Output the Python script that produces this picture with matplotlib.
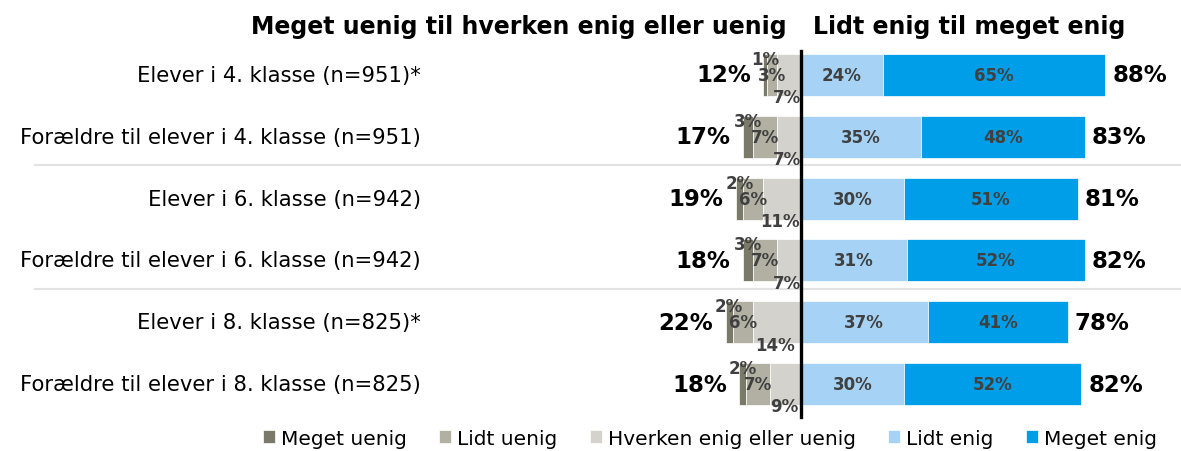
import numpy as np
import matplotlib.pyplot as plt

groups = ['Elever i 4. klasse (n=951)*',
          'Forældre til elever i 4. klasse (n=951)',
          'Elever i 6. klasse (n=942)',
          'Forældre til elever i 6. klasse (n=942)',
          'Elever i 8. klasse (n=825)*',
          'Forældre til elever i 8. klasse (n=825)']

meget_uenig = [1, 3, 2, 3, 2, 2]
lidt_uenig = [3, 7, 6, 7, 6, 7]
hverken = [7, 7, 11, 7, 14, 9]
lidt_enig = [24, 35, 30, 31, 37, 30]
meget_enig = [65, 48, 51, 52, 41, 52]
total_uenig = [12, 17, 19, 18, 22, 18]
total_enig = [88, 83, 81, 82, 78, 82]

legend_labels = ['Meget uenig', 'Lidt uenig', 'Hverken enig eller uenig', 'Lidt enig', 'Meget enig']
colors = ['#7a7a68', '#b1b0a3', '#d3d2cc', '#a6d3f5', '#009ee8']

W, H = 1181, 452
fig = plt.figure(figsize=(W / 100, H / 100), dpi=100)
# axes spans full width; 0 sits at x=801px, 3.42 px per percent
ax = fig.add_axes([0, (H - 416) / H, 1, 371 / H])
pxp = 3.42
ax.set_xlim(-801 / pxp, (W - 801) / pxp)
ax.set_ylim(5.5, -0.5)
ax.axis('off')

y = np.arange(len(groups))
h = 0.68
mu = np.array(meget_uenig)
lu = np.array(lidt_uenig)
hv = np.array(hverken)
le = np.array(lidt_enig)
me = np.array(meget_enig)

left_neg = -(mu + lu + hv)
ax.barh(y, mu, left=left_neg, height=h, color=colors[0], edgecolor='white', linewidth=0.5, label=legend_labels[0])
ax.barh(y, lu, left=left_neg + mu, height=h, color=colors[1], edgecolor='white', linewidth=0.5, label=legend_labels[1])
ax.barh(y, hv, left=-hv, height=h, color=colors[2], edgecolor='white', linewidth=0.5, label=legend_labels[2])
ax.barh(y, le, left=0, height=h, color=colors[3], edgecolor='white', linewidth=0.5, label=legend_labels[3])
ax.barh(y, me, left=le, height=h, color=colors[4], edgecolor='white', linewidth=0.5, label=legend_labels[4])

seg_kw = dict(fontsize=12, fontweight='bold', color='#404040', ha='center', va='center')
for i in range(len(groups)):
    ax.text(left_neg[i] + mu[i] / 2, i - 0.26, f'{mu[i]}%', **seg_kw)
    ax.text(left_neg[i] + mu[i] + lu[i] / 2, i, f'{lu[i]}%', **seg_kw)
    ax.text(-hv[i] / 2 - 0.5, i + 0.36, f'{hv[i]}%', **seg_kw)
    ax.text(le[i] / 2, i, f'{le[i]}%', **seg_kw)
    ax.text(le[i] + me[i] / 2, i, f'{me[i]}%', **seg_kw)
    ax.annotate(f'{total_uenig[i]}%', (left_neg[i], i), xytext=(-9, 0), textcoords='offset points',
                ha='right', va='center', fontsize=16.5, fontweight='bold', color='black')
    ax.annotate(f'{total_enig[i]}%', (le[i] + me[i], i), xytext=(5, 0), textcoords='offset points',
                ha='left', va='center', fontsize=16.5, fontweight='bold', color='black')
    ax.text((421 - 801) / pxp, i, groups[i], ha='right', va='center', fontsize=15.2, color='black')

# zero line and separators
ax.axvline(0, ymin=-0.005, ymax=0.981, color='black', lw=2.4, clip_on=False)
for sy in [1.46, 3.46]:
    ax.axhline(sy, xmin=35 / W, xmax=1, color='#e2e2e2', lw=1.5, zorder=0)

ax.text(-4.1, -0.79, 'Meget uenig til hverken enig eller uenig', ha='right', va='center',
        fontsize=17, fontweight='bold')
ax.text(3.5, -0.79, 'Lidt enig til meget enig', ha='left', va='center',
        fontsize=17, fontweight='bold')

fig.legend(loc='center', bbox_to_anchor=(0.601, 0.028), ncol=5, frameon=False, fontsize=14.5,
           handlelength=0.6, handleheight=0.6, handletextpad=0.3, columnspacing=1.6)

fig.savefig('out.png', dpi=100)
